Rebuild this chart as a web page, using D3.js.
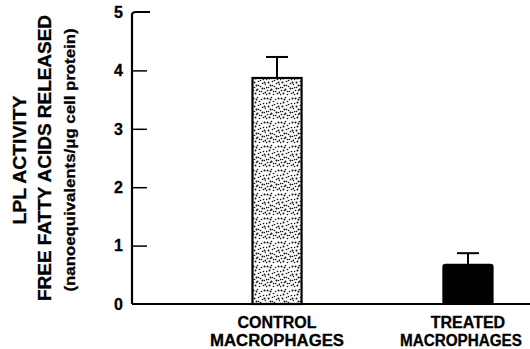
<!DOCTYPE html>
<html>
<head>
<meta charset="utf-8">
<script src="https://cdn.jsdelivr.net/npm/d3@7"></script>
<style>
  body { margin: 0; background: #fff; }
  text { font-family: "Liberation Sans", Arial, sans-serif; font-weight: bold; fill: #000; stroke: #000; stroke-width: 0.3px; }
</style>
</head>
<body>
<div id="chart"></div>
<script>
// Data
const groups = ["CONTROL", "TREATED"];
const groupLines = [["CONTROL", "MACROPHAGES"], ["TREATED", "MACROPHAGES"]];
const means = [3.87, 0.67];
const errors = [0.36, 0.20];
const yTicks = [0, 1, 2, 3, 4, 5];

const width = 530, height = 349;

const svg = d3.select("#chart")
    .append("svg")
    .attr("width", width)
    .attr("height", height);

// Scales
const y = d3.scaleLinear().domain([0, 5]).range([304, 12]);
const x = d3.scaleBand()
    .domain(groups)
    .range([132, 613])
    .paddingInner(0.743)
    .paddingOuter(0.631);

// Stipple pattern for the control bar
const dots = [[1,2],[5,1],[9,3],[3,6],[7,5],[11,7],[2,10],[6,9],[10,11],[4,13],[8,14],[0,15],[12,2],[13,12],[1,18],[5,17],[9,19],[12,16],[3,21],[7,22],[11,21],
              [4,3],[8,8],[0,7],[12,10],[6,13],[2,15],[10,16],[7,19],[0,22],[13,20],[4,18]];
const pat = svg.append("defs").append("pattern")
    .attr("id", "stipple")
    .attr("patternUnits", "userSpaceOnUse")
    .attr("width", 14)
    .attr("height", 24);
pat.append("rect").attr("width", 14).attr("height", 24).attr("fill", "#fff");
pat.selectAll("circle")
    .data(dots)
    .enter()
    .append("circle")
    .attr("cx", d => d[0] + 0.5)
    .attr("cy", d => d[1] + 0.5)
    .attr("r", (d, i) => i % 3 === 0 ? 1.0 : 0.8)
    .attr("fill", "#111");

// Bars
svg.selectAll("rect.bar")
    .data(groups)
    .enter()
    .append("rect")
    .attr("class", "bar")
    .attr("x", d => x(d))
    .attr("y", (d, i) => y(means[i]))
    .attr("width", x.bandwidth())
    .attr("height", (d, i) => y(0) - y(means[i]))
    .attr("rx", (d, i) => i === 1 ? 2 : 0)
    .attr("fill", (d, i) => i === 0 ? "url(#stipple)" : "#000")
    .attr("stroke", "#000")
    .attr("stroke-width", 2.2);

// Error bars (upper only)
const err = svg.selectAll("g.err")
    .data(groups)
    .enter()
    .append("g")
    .attr("class", "err")
    .attr("stroke", "#000")
    .attr("stroke-width", 2);

err.append("line")
    .attr("x1", d => x(d) + x.bandwidth() / 2)
    .attr("x2", d => x(d) + x.bandwidth() / 2)
    .attr("y1", (d, i) => y(means[i]))
    .attr("y2", (d, i) => y(means[i] + errors[i]));

err.append("line")
    .attr("x1", d => x(d) + x.bandwidth() / 2 - 11)
    .attr("x2", d => x(d) + x.bandwidth() / 2 + 11)
    .attr("y1", (d, i) => y(means[i] + errors[i]))
    .attr("y2", (d, i) => y(means[i] + errors[i]));

// Baseline
svg.append("line")
    .attr("x1", 132)
    .attr("x2", width)
    .attr("y1", y(0))
    .attr("y2", y(0))
    .attr("stroke", "#000")
    .attr("stroke-width", 2);

// Y axis
const yAxis = svg.append("g")
    .attr("transform", "translate(132,0)")
    .call(d3.axisRight(y).tickValues(yTicks).tickSize(15).tickFormat(""));
yAxis.select(".domain").remove();
yAxis.selectAll(".tick line").attr("stroke", "#000").attr("stroke-width", 1.5);
yAxis.selectAll(".tick").filter(d => d === 0 || d === 5).remove();
yAxis.append("path")
    .attr("d", `M0,${y(0)}V${y(5) + 3}Q0,${y(5)} 4,${y(5)}H18`)
    .attr("fill", "none")
    .attr("stroke", "#000")
    .attr("stroke-width", 2.2);

svg.selectAll("text.ytick")
    .data(yTicks)
    .enter()
    .append("text")
    .attr("class", "ytick")
    .attr("x", 123)
    .attr("y", d => y(d))
    .attr("dy", "0.36em")
    .attr("text-anchor", "end")
    .style("font-size", "16px")
    .text(d => d);

// Category labels
const cat = svg.selectAll("text.cat")
    .data(groups)
    .enter()
    .append("text")
    .attr("class", "cat")
    .attr("text-anchor", "middle")
    .style("font-size", "16px");

cat.selectAll("tspan")
    .data((d, i) => groupLines[i].map(t => ({ t, g: d, i })))
    .enter()
    .append("tspan")
    .attr("x", d => x(d.g) + x.bandwidth() / 2 - (d.i === 1 && d.t === "MACROPHAGES" ? 7 : 0))
    .attr("y", (d, j) => 328 + j * 18)
    .attr("textLength", d => d.t === "MACROPHAGES" ? (d.i === 0 ? 134 : 122) : null)
    .attr("lengthAdjust", "spacingAndGlyphs")
    .text(d => d.t);

// Y axis titles
const titles = [
    { text: "LPL ACTIVITY", x: 26, y: 160, size: 18, len: 129 },
    { text: "FREE FATTY ACIDS RELEASED", x: 51, y: 158, size: 18.5, len: 286 },
    { text: "(nanoequivalents/\u03bcg cell protein)", x: 75, y: 160, size: 15.5, len: 263 }
];
titles.forEach(t => {
    svg.append("text")
        .attr("transform", `translate(${t.x},${t.y}) rotate(-90)`)
        .attr("text-anchor", "middle")
        .attr("textLength", t.len)
        .attr("lengthAdjust", "spacingAndGlyphs")
        .style("font-size", t.size + "px")
        .text(t.text);
});
</script>
</body>
</html>
